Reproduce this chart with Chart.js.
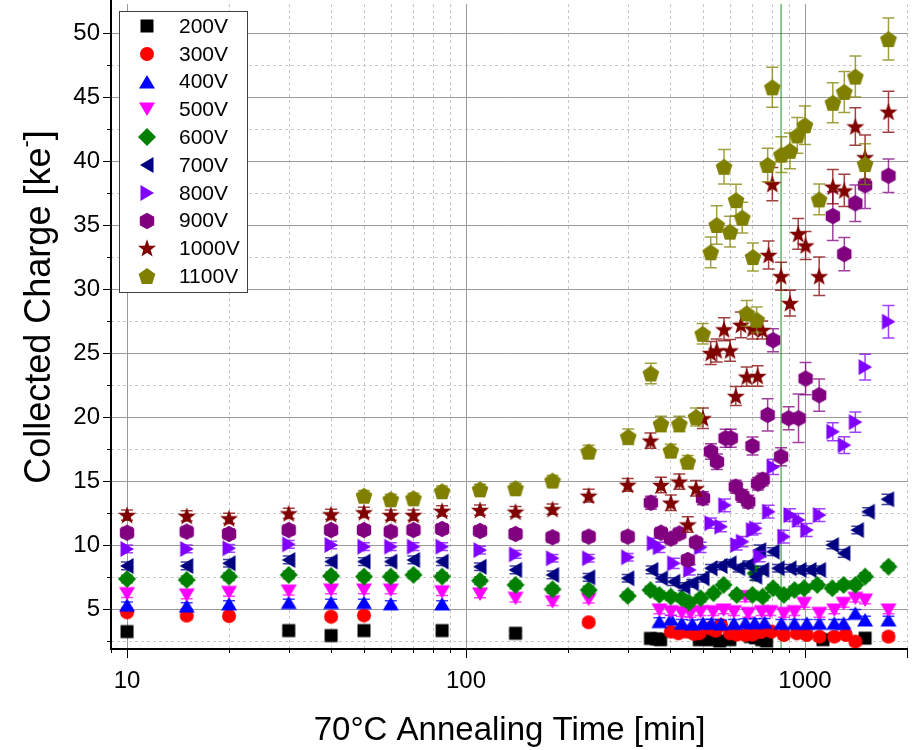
<!DOCTYPE html>
<html><head><meta charset="utf-8">
<script src="https://cdn.jsdelivr.net/npm/chart.js@4"></script>
<style>html,body{margin:0;padding:0;background:#fff}canvas{display:block}</style>
</head><body>
<canvas id="c" width="912" height="750" style="width:912px;height:750px"></canvas>
<script>
// ---------- data: [annealing time (min), collected charge (ke-), error (ke-)] ----------
const seriesLabels = ['200V','300V','400V','500V','600V','700V','800V','900V','1000V','1100V'];
const seriesColors = ['#000000','#FF0000','#0000FF','#FF00FF','#008000','#000080','#8000FF','#800080','#800000','#808000'];
const seriesShapes = ['square','circle','triUp','triDown','diamond','triLeft','triRight','hexagon','star','pentagon'];

const q200V = [[10,3.23,0.2],[30,3.31,0.2],[40,2.92,0.2],[50,3.31,0.2],[85,3.31,0.2],[140,3.1,0.2],[350,2.7,0.2],[365,2.66,0.2],[375,2.6,0.2],[488,2.6,0.2],[510,2.66,0.2],[530,2.6,0.2],[560,2.5,0.2],[600,2.6,0.2],[690,2.84,0.2],[715,2.75,0.2],[745,2.6,0.2],[770,2.5,0.2],[1130,2.6,0.2],[1504,2.72,0.2]];
const q300V = [[10,4.74,0.25],[15,4.48,0.25],[20,4.45,0.25],[40,4.4,0.25],[50,4.5,0.25],[230,3.96,0.25],[402,3.23,0.3],[423,3.1,0.3],[447,3.23,0.3],[470,3.05,0.3],[488,3.1,0.3],[524,3.49,0.3],[545,3.3,0.3],[565,3.75,0.3],[601,3.1,0.3],[630,3.0,0.3],[667,2.97,0.3],[700,3.0,0.3],[740,3.2,0.3],[797,3.23,0.3],[866,2.97,0.3],[946,3.1,0.3],[1012,2.97,0.3],[1103,2.84,0.3],[1220,2.84,0.3],[1319,2.97,0.3],[1408,2.45,0.3],[1763,2.84,0.3]];
const q400V = [[10,5.3,0.25],[15,5.23,0.25],[20,5.39,0.25],[30,5.5,0.25],[40,5.5,0.25],[50,5.5,0.25],[60,5.4,0.25],[85,5.39,0.25],[372,4.01,0.3],[402,4.2,0.3],[433,3.88,0.3],[465,3.83,0.3],[500,3.88,0.3],[530,3.9,0.3],[565,3.83,0.3],[617,3.88,0.3],[667,3.93,0.3],[711,3.93,0.3],[760,3.95,0.3],[852,3.88,0.3],[931,3.88,0.3],[1012,3.88,0.3],[1103,3.88,0.3],[1220,3.88,0.3],[1300,3.88,0.3],[1408,4.66,0.3],[1504,4.14,0.3],[1763,4.14,0.3]];
const q500V = [[10,6.2,0.3],[15,6.1,0.3],[20,6.3,0.3],[30,6.4,0.3],[40,6.48,0.3],[50,6.48,0.3],[60,6.48,0.3],[85,6.35,0.3],[110,6.17,0.3],[140,5.84,0.3],[180,5.57,0.3],[230,5.76,0.3],[372,4.92,0.3],[402,4.79,0.3],[433,4.71,0.3],[459,4.66,0.3],[492,4.79,0.3],[536,4.79,0.3],[575,4.92,0.3],[617,4.79,0.3],[667,5.96,0.4],[680,4.66,0.3],[746,4.79,0.3],[790,4.79,0.3],[866,4.66,0.3],[931,4.79,0.3],[994,5.44,0.3],[1103,4.66,0.3],[1220,4.92,0.3],[1300,5.44,0.3],[1408,5.84,0.3],[1504,5.7,0.3],[1763,4.92,0.3]];
const q600V = [[10,7.34,0.3],[15,7.27,0.3],[20,7.53,0.3],[30,7.66,0.3],[40,7.58,0.3],[50,7.53,0.3],[60,7.53,0.3],[70,7.66,0.3],[85,7.53,0.3],[110,7.21,0.3],[140,6.88,0.3],[180,6.54,0.3],[230,6.48,0.3],[300,6.02,0.3],[350,6.48,0.3],[372,6.1,0.3],[402,5.96,0.3],[433,5.84,0.3],[455,5.5,0.3],[492,5.84,0.3],[537,6.23,0.3],[575,6.88,0.3],[629,6.1,0.3],[700,6.1,0.3],[715,7.79,0.5],[750,5.96,0.3],[805,6.62,0.3],[866,6.1,0.3],[931,6.48,0.3],[994,6.62,0.3],[1087,6.88,0.3],[1204,6.62,0.3],[1300,6.88,0.3],[1408,6.88,0.3],[1504,7.53,0.3],[1763,8.3,0.3]];
const q700V = [[10,8.36,0.3],[15,8.36,0.3],[20,8.57,0.3],[30,8.83,0.3],[40,8.7,0.3],[50,8.7,0.3],[60,8.7,0.3],[70,8.83,0.3],[85,8.7,0.3],[110,8.3,0.3],[140,8.05,0.3],[180,7.66,0.3],[230,7.47,0.3],[300,7.4,0.3],[353,8.05,0.3],[377,7.4,0.3],[410,7.13,0.3],[439,6.74,0.3],[465,7.0,0.3],[500,7.4,0.3],[528,8.18,0.3],[565,8.36,0.3],[601,8.57,0.3],[637,8.18,0.3],[680,8.44,0.3],[715,7.52,0.3],[735,9.6,0.4],[750,8.05,0.3],[805,9.48,0.3],[833,8.18,0.3],[903,8.18,0.3],[966,8.05,0.3],[1034,8.05,0.3],[1103,8.05,0.3],[1204,10.0,0.3],[1302,9.35,0.3],[1427,11.17,0.3],[1537,12.6,0.3],[1752,13.57,0.4]];
const q800V = [[10,9.69,0.3],[15,9.69,0.3],[20,9.74,0.3],[30,10.05,0.3],[40,10.0,0.3],[50,9.87,0.3],[60,9.87,0.3],[70,9.87,0.3],[85,9.87,0.3],[110,9.6,0.3],[140,9.27,0.3],[180,8.96,0.3],[230,8.96,0.3],[300,9.04,0.3],[357,10.13,0.4],[372,9.82,0.4],[410,8.57,0.4],[457,8.05,0.4],[492,9.82,0.4],[528,11.7,0.4],[565,11.43,0.4],[580,13.1,0.5],[629,10.0,0.4],[654,10.26,0.4],[700,11.17,0.4],[715,11.3,0.4],[735,9.09,0.4],[781,12.6,0.5],[805,16.1,0.6],[866,10.65,0.5],[903,12.34,0.5],[957,11.95,0.5],[1012,11.17,0.5],[1103,12.34,0.5],[1208,18.85,0.7],[1306,17.8,0.65],[1408,19.6,0.8],[1504,23.9,1.0],[1763,27.45,1.27]];
const q900V = [[10,10.96,0.4],[15,11.04,0.4],[20,10.86,0.4],[30,11.17,0.4],[40,11.17,0.4],[50,11.17,0.4],[60,11.04,0.4],[70,11.17,0.4],[85,11.25,0.4],[110,11.1,0.4],[140,10.86,0.4],[180,10.6,0.4],[230,10.65,0.4],[300,10.65,0.4],[351,13.3,0.5],[376,10.96,0.4],[402,10.5,0.4],[426,10.9,0.4],[451,8.83,0.4],[477,10.2,0.4],[500,13.65,0.5],[528,17.3,0.6],[550,16.5,0.6],[583,18.34,0.7],[604,18.34,0.7],[625,14.55,0.5],[653,13.83,0.5],[680,13.38,0.5],[700,17.73,0.7],[727,14.8,0.5],[750,15.1,0.5],[776,20.16,1.26],[805,26.0,0.9],[850,16.9,0.7],[895,19.9,0.9],[957,19.9,1.9],[1004,23.0,1.26],[1101,21.7,1.26],[1208,35.7,1.9],[1306,32.73,1.3],[1408,36.7,1.43],[1504,38.1,1.8],[1763,38.85,1.3]];
const q1000V = [[10,12.34,0.4],[15,12.27,0.4],[20,12.08,0.4],[30,12.47,0.4],[40,12.4,0.4],[50,12.55,0.4],[60,12.34,0.4],[70,12.34,0.4],[85,12.66,0.4],[110,12.73,0.4],[140,12.6,0.4],[180,12.8,0.4],[230,13.85,0.5],[300,14.7,0.5],[350,18.15,0.6],[376,14.69,0.6],[402,13.3,0.6],[426,14.95,0.6],[451,11.6,0.6],[477,14.43,0.6],[500,19.9,0.8],[527,25.0,0.9],[549,25.2,0.9],[577,26.85,0.9],[601,25.2,0.85],[625,21.64,0.75],[647,27.2,1.0],[673,23.15,0.75],[700,26.9,0.8],[725,23.2,0.8],[748,26.8,0.7],[781,32.66,1.1],[801,38.2,1.3],[850,31.0,1.1],[903,28.9,1.0],[955,34.3,1.2],[1004,33.4,1.1],[1101,31.0,1.5],[1208,38.0,1.33],[1306,37.7,1.26],[1408,42.7,1.47],[1504,40.3,1.73],[1763,43.85,1.6]];
const q1100V = [[50,13.85,0.4],[60,13.57,0.4],[70,13.65,0.4],[85,14.2,0.4],[110,14.35,0.4],[140,14.43,0.4],[180,15.03,0.4],[230,17.29,0.5],[301,18.46,0.6],[351,23.4,0.8],[376,19.45,0.6],[402,17.37,0.5],[426,19.45,0.6],[451,16.5,0.5],[477,20.0,0.7],[499,26.5,0.8],[527,32.87,1.2],[549,35.0,1.5],[577,39.55,1.35],[601,34.48,1.2],[626,36.95,1.24],[653,35.57,1.2],[673,28.1,1.0],[702,32.5,1.1],[720,27.6,1.0],[776,39.69,1.3],[801,45.76,1.56],[852,40.5,1.4],[903,40.8,1.4],[949,42.0,1.4],[1000,42.8,1.5],[1101,37.0,1.2],[1208,44.55,1.56],[1306,45.4,1.6],[1408,46.6,1.6],[1504,39.76,1.6],[1763,49.53,1.64]];
const seriesData = [q200V,q300V,q400V,q500V,q600V,q700V,q800V,q900V,q1000V,q1100V];

const xTickLabels = [10, 100, 1000];
const yTickLabels = [5, 10, 15, 20, 25, 30, 35, 40, 45, 50];
const xRange = [8.97, 2013];
const yRange = [1.95, 52.27];
const referenceTime = 850;   // green vertical marker line
const xTitle = '70°C Annealing Time [min]';
const yTitle = 'Collected Charge [ke';
const FAM = '"Liberation Sans", Arial, Helvetica, sans-serif';
const AREA = { left: 111, top: 4, right: 908, bottom: 648 };

// ---------- marker images ----------
function makeMarker(shape, color) {
  const S = 24, c = document.createElement('canvas');
  c.width = S; c.height = S;
  const g = c.getContext('2d');
  g.fillStyle = color; g.translate(S / 2, S / 2); g.beginPath();
  const poly = (n, r, start) => { for (let k = 0; k < n; k++) { const a = start + k * 2 * Math.PI / n; const px = r * Math.cos(a), py = r * Math.sin(a); k ? g.lineTo(px, py) : g.moveTo(px, py); } };
  switch (shape) {
    case 'square': g.rect(-6.5, -6.5, 13, 13); break;
    case 'circle': g.arc(0, 0, 7, 0, 2 * Math.PI); break;
    case 'triUp': g.moveTo(0, -7); g.lineTo(8, 6.5); g.lineTo(-8, 6.5); break;
    case 'triDown': g.moveTo(0, 7); g.lineTo(8, -6.5); g.lineTo(-8, -6.5); break;
    case 'triLeft': g.moveTo(-7, 0); g.lineTo(6.5, -8); g.lineTo(6.5, 8); break;
    case 'triRight': g.moveTo(7, 0); g.lineTo(-6.5, -8); g.lineTo(-6.5, 8); break;
    case 'diamond': g.moveTo(0, -9); g.lineTo(9, 0); g.lineTo(0, 9); g.lineTo(-9, 0); break;
    case 'hexagon': poly(6, 8.3, -Math.PI / 2); break;
    case 'pentagon': g.translate(0, 0.8); poly(5, 8.8, -Math.PI / 2); break;
    case 'star': for (let k = 0; k < 10; k++) { const r = k % 2 ? 3.9 : 9.5; const a = -Math.PI / 2 + k * Math.PI / 5; const px = r * Math.cos(a), py = r * Math.sin(a) + 0.8; k ? g.lineTo(px, py) : g.moveTo(px, py); } break;
  }
  g.closePath(); g.fill();
  return c;
}
const markers = seriesShapes.map((s, i) => makeMarker(s, seriesColors[i]));

// ---------- datasets ----------
const datasets = seriesData.map((arr, i) => ({
  label: seriesLabels[i],
  data: arr.map(p => ({ x: p[0], y: p[1], e: p[2] })),
  pointStyle: markers[i],
  pointRadius: 8,
  backgroundColor: seriesColors[i],
  borderColor: seriesColors[i],
  showLine: false,
  order: 10 - i,
  errColor: seriesColors[i]
}));
datasets.push({
  label: 'ref',
  data: [{ x: referenceTime, y: yRange[0] }, { x: referenceTime, y: yRange[1] }],
  showLine: true, pointRadius: 0, borderColor: '#1E8C1E', borderWidth: 1, order: 30
});

// ---------- plugins ----------
const gridPlugin = {
  id: 'gridPlugin',
  afterLayout(chart) {
    const a = chart.chartArea;
    a.left = AREA.left; a.right = AREA.right; a.top = AREA.top; a.bottom = AREA.bottom;
    a.width = a.right - a.left; a.height = a.bottom - a.top;
    const { x, y } = chart.scales;
    x.left = a.left; x.right = a.right; x.width = a.width; x.top = a.bottom; x.bottom = chart.height; x.height = x.bottom - x.top;
    y.top = a.top; y.bottom = a.bottom; y.height = a.height; y.left = 0; y.right = a.left; y.width = a.left;
    x.configure(); y.configure();
    x._labelItems = null; y._labelItems = null;
  },
  beforeDatasetsDraw(chart) {
    const { ctx, chartArea: a, scales: { x, y } } = chart;
    ctx.save();
    ctx.lineWidth = 1;
    ctx.strokeStyle = '#c8c8c8'; ctx.setLineDash([3, 3]);
    for (let e = 0; e <= 3; e++) for (let d = 2; d <= 9; d++) {
      const v = d * Math.pow(10, e);
      if (v <= xRange[0] || v >= xRange[1]) continue;
      const px = Math.round(x.getPixelForValue(v)) + 0.5;
      ctx.beginPath(); ctx.moveTo(px, a.top); ctx.lineTo(px, a.bottom); ctx.stroke();
    }
    for (let v = 2.5; v < yRange[1]; v += 5) {
      if (v <= yRange[0]) continue;
      const py = Math.round(y.getPixelForValue(v)) + 0.5;
      ctx.beginPath(); ctx.moveTo(a.left, py); ctx.lineTo(a.right, py); ctx.stroke();
    }
    ctx.setLineDash([]); ctx.strokeStyle = '#9a9a9a';
    xTickLabels.forEach(v => { const px = Math.round(x.getPixelForValue(v)) + 0.5; ctx.beginPath(); ctx.moveTo(px, a.top); ctx.lineTo(px, a.bottom); ctx.stroke(); });
    yTickLabels.forEach(v => { const py = Math.round(y.getPixelForValue(v)) + 0.5; ctx.beginPath(); ctx.moveTo(a.left, py); ctx.lineTo(a.right, py); ctx.stroke(); });
    ctx.restore();
  },
  beforeDatasetDraw(chart, args) {
    const ds = chart.data.datasets[args.index];
    if (!ds.errColor) return;
    const { ctx, chartArea: a, scales: { y } } = chart;
    ctx.save();
    ctx.beginPath(); ctx.rect(a.left, a.top, a.right - a.left, a.bottom - a.top); ctx.clip();
    ctx.strokeStyle = ds.errColor; ctx.globalAlpha = 0.75; ctx.lineWidth = 1.5;
    args.meta.data.forEach((el, i) => {
      const d = ds.data[i]; if (!d.e) return;
      const t = y.getPixelForValue(d.y + d.e), b = y.getPixelForValue(d.y - d.e);
      ctx.beginPath();
      ctx.moveTo(el.x, t); ctx.lineTo(el.x, b);
      ctx.moveTo(el.x - 6, t); ctx.lineTo(el.x + 6, t);
      ctx.moveTo(el.x - 6, b); ctx.lineTo(el.x + 6, b);
      ctx.stroke();
    });
    ctx.restore();
  },
  afterDatasetsDraw(chart) {
    const { ctx, chartArea: a, scales: { x, y } } = chart;
    ctx.save();
    ctx.strokeStyle = '#000'; ctx.lineWidth = 1;
    for (let e = 0; e <= 3; e++) for (let d = 1; d <= 9; d++) {
      const v = d * Math.pow(10, e);
      if (v <= xRange[0] || v >= xRange[1]) continue;
      const px = Math.round(x.getPixelForValue(v)) + 0.5;
      const len = d === 1 ? 10 : 5;
      ctx.beginPath(); ctx.moveTo(px, a.bottom); ctx.lineTo(px, a.bottom + len); ctx.stroke();
    }
    ctx.beginPath(); ctx.moveTo(a.right - 0.5, a.bottom); ctx.lineTo(a.right - 0.5, a.bottom + 10); ctx.stroke();
    for (let v = 2.5; v < yRange[1]; v += 2.5) {
      const py = Math.round(y.getPixelForValue(v)) + 0.5;
      const len = (v % 5 === 0) ? 8 : 4;
      ctx.beginPath(); ctx.moveTo(a.left, py); ctx.lineTo(a.left - len, py); ctx.stroke();
    }
    ctx.lineWidth = 2;
    ctx.beginPath(); ctx.moveTo(a.left, 0); ctx.lineTo(a.left, a.bottom + 1); ctx.lineTo(a.right, a.bottom + 1); ctx.stroke();
    ctx.restore();
  },
  afterDraw(chart) {
    const { ctx, chartArea: a } = chart;
    ctx.save();
    ctx.fillStyle = '#fff'; ctx.fillRect(119.5, 11.5, 128, 281);
    ctx.strokeStyle = '#404040'; ctx.lineWidth = 1; ctx.strokeRect(119.5, 11.5, 128, 281);
    ctx.font = '21px ' + FAM; ctx.fillStyle = '#000'; ctx.textBaseline = 'middle'; ctx.textAlign = 'left';
    seriesLabels.forEach((lab, i) => {
      const cy = 26 + i * 27.8;
      ctx.drawImage(markers[i], 147 - 12, Math.round(cy) - 12);
      ctx.fillText(lab, 179, cy + 1);
    });
    ctx.font = '33px ' + FAM; ctx.textAlign = 'center'; ctx.textBaseline = 'alphabetic';
    ctx.fillText(xTitle, (a.left + a.right) / 2, 740);
    ctx.translate(50, 307); ctx.rotate(-Math.PI / 2);
    const F = 36;
    ctx.font = F + 'px ' + FAM;
    const w1 = ctx.measureText(yTitle).width;
    ctx.font = '22px ' + FAM; const w2 = ctx.measureText('-').width;
    ctx.font = F + 'px ' + FAM; const w3 = ctx.measureText(']').width;
    const start = -(w1 + w2 + w3) / 2;
    ctx.textAlign = 'left';
    ctx.fillText(yTitle, start, 0);
    ctx.font = '22px ' + FAM; ctx.fillText('-', start + w1, -17);
    ctx.font = F + 'px ' + FAM; ctx.fillText(']', start + w1 + w2, 0);
    ctx.restore();
  }
};

new Chart(document.getElementById('c'), {
  type: 'scatter',
  data: { datasets },
  options: {
    responsive: false, animation: false, devicePixelRatio: 1,
    layout: { padding: { top: 4, right: 4, left: 0, bottom: 0 } },
    plugins: { legend: { display: false }, tooltip: { enabled: false } },
    scales: {
      x: {
        type: 'logarithmic', min: xRange[0], max: xRange[1],
        grid: { display: false, drawTicks: false }, border: { display: false },
        ticks: { autoSkip: false, maxRotation: 0, minRotation: 0, padding: 19, color: '#000',
          font: { family: FAM, size: 24 },
          callback: v => xTickLabels.includes(v) ? String(v) : '' },
        afterFit: s => { s.height = 102; }
      },
      y: {
        min: yRange[0], max: yRange[1],
        grid: { display: false, drawTicks: false }, border: { display: false },
        ticks: { stepSize: 5, includeBounds: false, padding: 11, color: '#000',
          font: { family: FAM, size: 24 },
          callback: v => yTickLabels.includes(v) ? String(v) : '' },
        afterFit: s => { s.width = 111; }
      }
    }
  },
  plugins: [gridPlugin]
});
</script>
</body></html>
